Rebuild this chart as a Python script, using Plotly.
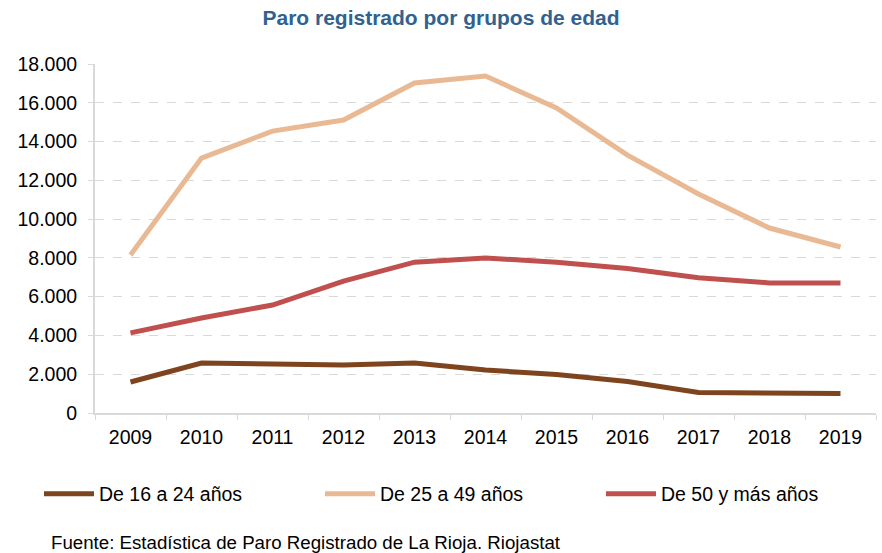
import plotly.graph_objects as go

years = ["2009", "2010", "2011", "2012", "2013", "2014", "2015", "2016", "2017", "2018", "2019"]
age_16_24 = [1600, 2580, 2530, 2480, 2580, 2220, 1980, 1620, 1060, 1040, 1010]
age_25_49 = [8150, 13150, 14540, 15110, 17020, 17380, 15730, 13300, 11300, 9540, 8560]
age_50_plus = [4130, 4900, 5570, 6800, 7780, 7990, 7780, 7450, 6980, 6710, 6710]

series_names = ["De 16 a 24 años", "De 25 a 49 años", "De 50 y más años"]
colors = ["#7E441D", "#E9B994", "#C0504D"]

fig = go.Figure()
for name, vals, col in zip(series_names, [age_16_24, age_25_49, age_50_plus], colors):
    fig.add_trace(go.Scatter(x=years, y=vals, name=name, mode="lines",
                             line=dict(color=col, width=5)))

font_family = "Liberation Sans, Arial, sans-serif"
fig.update_layout(
    width=882, height=553,
    margin=dict(l=95, r=6, t=64, b=140, autoexpand=False),
    paper_bgcolor="white", plot_bgcolor="white",
    separators=",.",
    font=dict(family=font_family, size=19.5, color="#000000"),
    title=dict(text="<b>Paro registrado por grupos de edad</b>",
               x=0.5, xanchor="center", y=1 - 18 / 553, yanchor="middle",
               yref="container",
               font=dict(family=font_family, size=21, color="#31628F")),
    showlegend=True,
    legend=dict(orientation="h", x=-0.0717, xanchor="left", y=-0.232, yanchor="middle",
                itemwidth=50, entrywidth=216, entrywidthmode="pixels",
                font=dict(family=font_family, size=19.5, color="#000000"),
                bgcolor="rgba(0,0,0,0)"),
    annotations=[dict(text="Fuente: Estadística de Paro Registrado de La Rioja. Riojastat",
                      xref="paper", yref="paper", x=-0.0589, y=(413 - 542) / 349,
                      xanchor="left", yanchor="middle", showarrow=False,
                      font=dict(family=font_family, size=18.7, color="#000000"))],
)
fig.update_xaxes(type="category", range=[-0.5, 10.5], tickson="boundaries",
                 ticks="outside", ticklen=5, tickcolor="#D9D9D9",
                 showline=True, linecolor="#D9D9D9", linewidth=2,
                 showgrid=False, ticklabelstandoff=6, automargin=False,
                 tickfont=dict(size=19.5, color="#000000"))
fig.update_yaxes(range=[0, 18000], dtick=2000, tickformat=",d",
                 ticks="outside", ticklen=5, tickcolor="#D9D9D9",
                 showline=True, linecolor="#D9D9D9", linewidth=2,
                 showgrid=True, gridcolor="#D9D9D9", griddash="dash", gridwidth=1,
                 zeroline=False, ticklabelstandoff=7, automargin=False,
                 tickfont=dict(size=19.5, color="#000000"))

fig.write_html("out.html", config={"displayModeBar": False},
               post_script="document.body.style.margin='0';")
